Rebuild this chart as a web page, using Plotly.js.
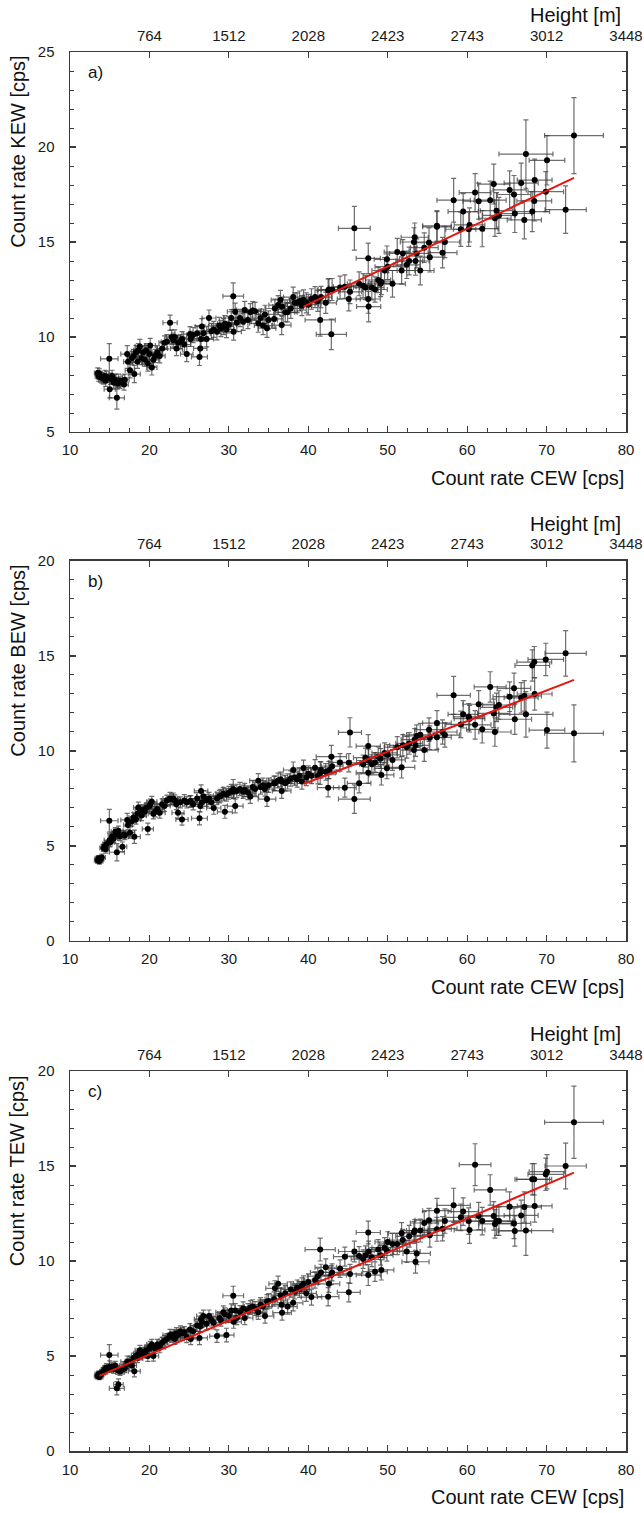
<!DOCTYPE html>
<html>
<head>
<meta charset="utf-8">
<script src="https://cdn.plot.ly/plotly-3.0.1.min.js"></script>
<style>
  html, body { margin: 0; padding: 0; background: #fff; }
  #chart { width: 644px; height: 1513px; }
</style>
</head>
<body>
<div id="chart"></div>
<script>
// Shared x values: count rate CEW [cps] and its uncertainty
const cew = [
  13.5,13.6,13.7,13.8,14.0,14.2,14.4,14.5,14.6,14.95,
  15.0,15.1,15.3,15.5,15.9,15.7,16.0,16.1,16.3,16.6,
  16.8,16.9,17.2,17.3,17.55,17.8,18.0,18.1,18.3,18.5,
  18.6,18.8,19.0,19.2,19.4,19.6,19.8,20.0,20.1,20.3,
  20.5,20.7,21.0,21.3,21.6,21.9,22.2,22.6,22.8,23.0,
  23.2,23.4,23.6,23.9,24.1,24.4,24.7,25.1,25.2,25.5,
  26.0,26.3,26.4,26.5,26.6,26.8,27.2,27.5,27.8,28.1,
  28.5,28.8,29.0,29.3,29.5,29.7,30.0,30.3,30.55,30.6,
  30.8,31.0,31.4,31.8,32.0,32.4,32.7,33.0,33.3,33.7,
  34.0,34.3,34.55,34.8,35.0,35.7,35.8,36.2,36.5,36.65,
  36.7,37.1,37.4,37.8,38.1,38.3,38.6,38.9,39.2,39.4,
  39.75,40.0,40.4,40.85,41.2,41.5,41.6,42.2,42.5,42.6,
  42.9,43.0,44.0,44.6,45.1,45.25,45.8,46.4,46.9,47.2,
  47.55,47.55,47.6,48.0,48.4,48.8,49.1,49.2,49.6,49.9,
  50.0,50.6,51.2,51.75,51.9,52.4,52.7,53.3,53.4,53.5,
  53.65,54.1,54.6,55.2,55.3,56.2,56.2,56.9,57.2,58.3,
  59.2,59.5,60.2,60.3,61.0,61.45,61.9,62.9,63.35,63.5,
  63.7,64.0,65.35,65.9,66.0,66.8,67.2,67.4,68.2,68.45,
  68.5,69.9,70.05,72.4,73.45
];
const cewErr = [
  0.43,0.44,0.44,0.44,0.45,0.45,0.46,0.46,0.47,1.1,
  0.7,0.48,0.49,0.5,0.95,0.5,0.51,0.6,0.52,0.55,
  0.54,0.54,0.8,0.55,0.6,0.57,0.58,0.75,0.59,0.6,
  0.6,0.6,0.61,0.62,0.62,0.63,0.7,0.64,0.64,0.65,
  0.66,0.66,0.67,0.68,0.69,0.7,0.71,0.9,0.73,0.74,
  0.74,0.75,0.76,0.76,0.77,0.78,0.79,0.8,0.81,0.82,
  0.83,1.0,0.84,0.85,0.85,0.86,0.87,0.88,0.89,0.9,
  0.91,0.92,0.93,0.94,0.94,0.95,0.96,0.97,1.3,0.98,
  0.99,0.99,1.0,1.02,1.02,1.04,1.05,1.06,1.07,1.08,
  1.09,1.1,1.11,1.11,1.12,1.14,1.15,1.16,1.17,1.17,
  1.17,1.19,1.2,1.21,1.22,1.23,1.24,1.24,1.25,1.26,
  1.27,1.28,1.29,1.31,1.32,1.9,1.33,1.35,1.36,1.36,
  1.9,1.38,1.41,1.43,1.44,1.45,2.0,1.48,1.5,1.51,
  1.52,1.52,1.52,1.54,1.55,1.56,1.57,1.57,1.59,1.6,
  1.6,1.62,1.64,1.66,1.66,1.68,1.69,1.71,1.71,1.71,
  1.72,1.73,1.75,1.77,1.77,1.8,1.8,1.82,1.83,2.1,
  1.89,1.9,1.93,1.93,2.0,1.97,1.98,2.01,2.03,2.03,
  2.04,2.05,2.09,2.11,2.11,2.14,2.15,3.4,2.18,2.19,
  2.19,2.24,2.24,2.6,3.7
];

// Panel a) count rate KEW [cps]
const kew = [
  8.1,7.95,8.05,7.9,7.85,7.8,7.95,7.7,7.9,8.85,
  7.25,7.8,7.95,7.6,6.8,7.75,7.55,7.7,7.6,7.7,
  7.5,7.75,9.1,8.7,8.25,8.9,9.0,8.05,9.2,8.7,
  9.3,9.5,8.9,9.2,8.8,9.3,8.6,9.1,9.55,8.4,
  8.8,9.0,9.2,9.0,9.4,9.7,9.75,10.75,10.0,9.84,
  10.0,9.4,9.7,9.75,9.9,9.6,9.1,10.15,9.9,10.1,
  10.2,8.95,9.4,9.9,10.55,10.2,9.9,11.0,10.3,10.4,
  10.28,10.6,10.45,10.55,10.7,10.4,10.65,11.0,12.15,10.28,
  11.33,10.75,11.0,10.8,11.42,10.9,11.3,11.4,11.35,10.72,
  11.0,10.6,11.19,10.46,10.9,10.95,11.5,11.68,11.95,10.63,
  11.6,11.3,11.3,11.5,12.1,11.8,11.8,11.9,11.65,11.95,
  11.8,11.7,12.0,12.1,11.9,10.9,12.1,11.8,12.45,12.5,
  10.14,12.5,12.6,12.65,12.0,12.38,15.72,12.8,12.7,12.6,
  14.14,12.0,11.6,12.6,12.5,13.0,12.8,12.9,13.5,14.09,
  13.7,12.8,14.47,13.5,14.4,13.8,14.0,15.0,15.25,14.0,
  14.4,13.5,14.7,14.96,14.2,15.8,15.85,14.44,15.0,17.2,
  15.67,16.6,15.67,15.9,17.6,17.15,15.7,17.2,18.05,16.25,
  16.65,16.4,17.74,17.5,16.5,18.1,16.16,19.63,16.6,17.16,
  18.26,17.65,19.3,16.7,20.6
];
const kewErr = [
  0.28,0.28,0.28,0.28,0.28,0.28,0.3,0.3,0.3,0.8,
  0.45,0.3,0.3,0.3,0.6,0.3,0.3,0.35,0.3,0.3,
  0.3,0.3,0.45,0.35,0.4,0.35,0.35,0.45,0.35,0.35,
  0.35,0.38,0.35,0.35,0.35,0.35,0.4,0.35,0.38,0.4,
  0.35,0.35,0.35,0.36,0.36,0.36,0.37,0.4,0.37,0.37,
  0.38,0.38,0.38,0.38,0.38,0.38,0.4,0.4,0.4,0.4,
  0.4,0.45,0.42,0.42,0.42,0.42,0.42,0.42,0.42,0.42,
  0.43,0.43,0.43,0.43,0.43,0.43,0.44,0.44,0.7,0.44,
  0.45,0.45,0.45,0.45,0.45,0.46,0.46,0.46,0.47,0.47,
  0.47,0.47,0.48,0.48,0.48,0.49,0.5,0.5,0.5,0.5,
  0.5,0.5,0.5,0.52,0.52,0.52,0.52,0.52,0.53,0.53,
  0.53,0.54,0.54,0.55,0.55,0.85,0.56,0.56,0.6,0.58,
  0.8,0.58,0.6,0.62,0.62,0.62,1.15,0.63,0.64,0.64,
  0.8,0.75,0.8,0.65,0.66,0.66,0.67,0.67,0.68,0.7,
  0.68,0.7,0.72,0.72,0.72,0.72,0.73,0.75,0.75,0.75,
  0.76,0.76,0.78,0.78,0.78,0.8,0.8,0.8,0.82,1.15,
  0.9,0.95,0.9,0.9,1.0,0.95,0.95,1.0,1.05,0.95,
  0.95,0.95,1.0,1.0,1.0,1.05,1.0,1.8,1.05,1.05,
  1.1,1.05,1.3,1.25,2.0
];

// Panel b) count rate BEW [cps]
const bew = [
  4.25,4.35,4.2,4.3,4.4,4.9,5.0,4.83,5.1,6.33,
  5.3,5.2,5.5,5.4,4.67,5.75,5.6,5.8,5.5,4.96,
  5.6,5.55,6.37,6.1,5.7,6.3,6.5,5.49,6.4,6.7,
  7.03,6.9,6.6,6.9,6.8,7.0,5.9,7.1,7.2,7.33,
  6.7,6.8,6.95,6.75,7.2,7.1,7.4,7.5,7.46,7.5,
  7.4,7.2,6.75,7.3,6.4,7.4,7.3,7.35,7.35,7.2,
  7.5,6.46,7.1,7.9,7.3,7.6,7.4,7.5,7.3,7.0,
  7.5,7.6,7.65,7.75,6.8,7.7,7.8,7.9,8.0,7.85,
  7.1,7.9,8.0,7.85,7.95,7.8,7.6,8.1,8.0,8.44,
  8.1,8.2,8.0,7.47,8.2,8.3,8.3,8.45,8.5,7.9,
  8.4,8.3,8.4,8.55,9.0,8.6,8.5,8.7,8.4,9.1,
  8.6,8.8,8.7,9.12,8.7,8.84,9.0,8.9,8.07,9.0,
  9.7,9.2,9.4,8.07,9.38,10.98,7.47,8.3,9.3,9.65,
  10.26,8.86,9.5,9.3,9.4,9.7,9.6,8.74,9.9,9.09,
  9.8,9.53,10.2,9.14,10.3,10.2,10.4,10.05,10.6,10.3,
  10.79,10.85,10.05,11.12,10.7,11.47,10.72,11.0,10.84,12.93,
  11.4,11.93,11.8,11.7,11.38,12.46,11.14,13.37,11.98,11.0,
  12.3,12.42,12.86,13.3,11.67,12.8,12.9,11.93,14.5,14.68,
  13.0,14.82,11.1,15.14,10.93
];
const bewErr = [
  0.15,0.15,0.15,0.15,0.17,0.18,0.18,0.2,0.2,0.6,
  0.35,0.2,0.22,0.22,0.45,0.22,0.22,0.25,0.22,0.25,
  0.22,0.22,0.35,0.25,0.3,0.25,0.25,0.35,0.25,0.25,
  0.28,0.26,0.26,0.26,0.26,0.26,0.3,0.27,0.27,0.28,
  0.27,0.27,0.27,0.28,0.28,0.28,0.28,0.32,0.28,0.29,
  0.29,0.29,0.3,0.29,0.3,0.3,0.3,0.3,0.3,0.3,
  0.31,0.35,0.31,0.32,0.31,0.31,0.32,0.32,0.32,0.33,
  0.33,0.33,0.33,0.34,0.34,0.34,0.34,0.34,0.5,0.34,
  0.36,0.35,0.35,0.35,0.35,0.36,0.36,0.36,0.36,0.37,
  0.37,0.37,0.37,0.38,0.38,0.38,0.38,0.39,0.39,0.39,
  0.39,0.4,0.4,0.4,0.42,0.4,0.4,0.41,0.41,0.42,
  0.42,0.42,0.42,0.43,0.43,0.6,0.43,0.44,0.48,0.45,
  0.6,0.45,0.46,0.5,0.48,0.77,0.75,0.5,0.49,0.5,
  0.6,0.55,0.6,0.5,0.51,0.52,0.52,0.53,0.53,0.55,
  0.54,0.55,0.56,0.56,0.56,0.57,0.57,0.58,0.58,0.58,
  0.59,0.6,0.6,0.62,0.62,0.65,0.63,0.64,0.64,1.0,
  0.7,0.72,0.7,0.7,0.75,0.72,0.72,0.8,0.75,0.75,
  0.75,0.75,0.78,0.8,0.8,0.8,0.8,1.2,0.82,0.82,
  0.85,0.85,0.95,1.2,1.5
];

// Panel c) count rate TEW [cps]
const tew = [
  3.95,4.05,3.9,4.0,4.1,4.2,4.3,4.25,4.4,5.05,
  4.44,4.35,4.45,4.3,3.3,4.5,4.25,3.5,4.2,4.3,
  4.4,4.35,4.7,4.6,4.7,4.5,4.9,4.2,5.0,4.9,
  5.1,5.3,5.05,5.2,5.15,5.3,5.0,5.4,5.5,5.6,
  5.0,5.4,5.6,5.45,5.7,5.8,5.9,6.1,6.0,6.1,
  5.9,6.2,6.1,6.3,6.2,6.25,6.0,6.4,5.9,6.3,
  6.6,5.95,6.55,6.95,6.8,7.1,6.7,7.1,6.9,6.75,
  6.05,7.0,6.9,7.3,7.2,6.1,7.1,7.4,8.17,6.8,
  7.4,7.0,7.3,7.5,7.0,7.4,7.55,7.6,7.5,7.3,
  7.7,7.6,7.1,7.85,7.9,8.0,8.56,8.8,8.2,7.7,
  7.28,8.3,7.6,8.5,7.8,8.4,8.6,8.5,8.7,8.8,
  8.3,8.9,8.1,9.0,9.2,10.6,9.4,9.67,8.12,8.8,
  9.26,9.4,9.6,10.23,8.35,9.32,10.5,10.26,10.1,10.3,
  11.5,9.26,10.5,10.2,9.44,10.6,10.3,9.53,10.7,10.54,
  11.0,10.9,10.9,11.46,11.1,10.5,11.3,11.5,11.6,9.96,
  10.4,11.6,12.0,12.15,11.35,12.65,11.67,11.7,12.1,12.93,
  12.3,12.6,12.1,11.63,15.07,12.37,12.1,13.74,12.37,11.95,
  12.1,12.1,12.86,11.98,11.58,12.4,12.84,11.6,14.3,14.3,
  12.9,14.56,14.7,15.0,17.3
];
const tewErr = [
  0.15,0.15,0.15,0.15,0.17,0.18,0.18,0.2,0.2,0.55,
  0.3,0.2,0.22,0.22,0.35,0.22,0.22,0.3,0.22,0.25,
  0.22,0.22,0.3,0.25,0.28,0.25,0.25,0.3,0.25,0.25,
  0.27,0.26,0.26,0.26,0.26,0.26,0.28,0.27,0.27,0.28,
  0.27,0.27,0.27,0.28,0.28,0.28,0.28,0.3,0.28,0.29,
  0.29,0.29,0.3,0.29,0.3,0.3,0.3,0.3,0.3,0.3,
  0.31,0.35,0.31,0.32,0.31,0.31,0.32,0.32,0.32,0.33,
  0.33,0.33,0.33,0.34,0.34,0.36,0.34,0.34,0.5,0.34,
  0.36,0.35,0.35,0.35,0.35,0.36,0.36,0.36,0.36,0.37,
  0.37,0.37,0.37,0.38,0.38,0.38,0.4,0.4,0.39,0.39,
  0.39,0.4,0.4,0.4,0.42,0.4,0.4,0.41,0.41,0.42,
  0.42,0.42,0.42,0.43,0.43,0.6,0.43,0.44,0.48,0.45,
  0.5,0.45,0.46,0.5,0.5,0.5,0.55,0.5,0.49,0.5,
  0.6,0.55,0.55,0.5,0.51,0.52,0.52,0.53,0.53,0.55,
  0.54,0.55,0.56,0.56,0.56,0.57,0.57,0.58,0.58,0.6,
  0.59,0.6,0.6,0.62,0.62,0.65,0.63,0.64,0.64,0.9,
  0.7,0.72,0.7,0.7,1.1,0.72,0.72,0.8,0.75,0.75,
  0.75,0.75,0.78,0.8,0.8,0.8,0.8,1.3,0.82,0.82,
  0.85,0.85,0.9,1.2,1.9
];

// Linear fits (end points)
const fitKEW_x = [39.4, 73.45];
const fitKEW_y = [11.6, 18.38];
const fitBEW_x = [39.4, 73.45];
const fitBEW_y = [8.26, 13.74];
const fitTEW_x = [13.7, 73.45];
const fitTEW_y = [3.95, 14.65];

// Axis ticks
const cewRange = [10, 80];
const heightTickVals = [20, 30, 40, 50, 60, 70, 80];
const heightTickText = ['764', '1512', '2028', '2423', '2743', '3012', '3448'];
const panelLabels = ['a)', 'b)', 'c)'];
const yTitles = ['Count rate KEW [cps]', 'Count rate BEW [cps]', 'Count rate TEW [cps]'];
const yRanges = [[5, 25], [0, 20], [0, 20]];

const panels = [
  { y: kew, err: kewErr, fx: fitKEW_x, fy: fitKEW_y, dom: [0.72838, 1] },
  { y: bew, err: bewErr, fx: fitBEW_x, fy: fitBEW_y, dom: [0.36455, 0.63617] },
  { y: tew, err: tewErr, fx: fitTEW_x, fy: fitTEW_y, dom: [0, 0.27162] }
];

const FONT = 'Liberation Sans, Arial, Helvetica, sans-serif';
const AX = '#3a3a3a';
const ERRC = 'rgba(60,60,60,0.75)';
const traces = [];
const layout = {
  width: 644, height: 1513,
  margin: { l: 70, r: 18, t: 52, b: 62, pad: 0 },
  paper_bgcolor: '#fff', plot_bgcolor: '#fff',
  showlegend: false,
  font: { family: FONT, color: '#1a1a1a', size: 15 },
  annotations: []
};

panels.forEach((p, i) => {
  const xb = 'x' + (i === 0 ? '' : (2 * i + 1));
  const xt = 'x' + (2 * i + 2);
  const yy = 'y' + (i === 0 ? '' : (i + 1));
  const xbKey = 'xaxis' + (i === 0 ? '' : (2 * i + 1));
  const xtKey = 'xaxis' + (2 * i + 2);
  const yKey = 'yaxis' + (i === 0 ? '' : (i + 1));

  traces.push({
    type: 'scatter', mode: 'markers', x: cew, y: p.y,
    xaxis: xb, yaxis: yy, hoverinfo: 'skip',
    marker: { color: '#000', size: 6, line: { width: 0 } },
    error_x: { type: 'data', array: cewErr, color: ERRC, thickness: 1.2, width: 2.5 },
    error_y: { type: 'data', array: p.err, color: ERRC, thickness: 1.2, width: 2.5 }
  });
  traces.push({
    type: 'scatter', mode: 'lines', x: p.fx, y: p.fy,
    xaxis: xb, yaxis: yy, hoverinfo: 'skip',
    line: { color: '#e8140f', width: 2 }
  });
  traces.push({ type: 'scatter', mode: 'markers', x: [], y: [], xaxis: xt, yaxis: yy, hoverinfo: 'skip' });

  layout[xbKey] = {
    domain: [0, 1], anchor: yy, range: cewRange, tick0: 10, dtick: 10,
    ticks: 'inside', ticklen: 6, tickwidth: 1.2, tickcolor: AX,
    showline: true, linecolor: AX, linewidth: 1.5, mirror: false,
    showgrid: false, zeroline: false, fixedrange: true,
    tickfont: { family: FONT, size: 15, color: '#1a1a1a' }, ticklabelstandoff: 4,
    minor: { tick0: 10, dtick: 2.5, ticks: 'inside', ticklen: 4, tickwidth: 1, tickcolor: AX, showgrid: false }
  };
  layout[xtKey] = {
    overlaying: xb, side: 'top', anchor: yy, range: cewRange,
    tickmode: 'array', tickvals: heightTickVals, ticktext: heightTickText,
    ticks: 'inside', ticklen: 6, tickwidth: 1.2, tickcolor: AX,
    showline: true, linecolor: AX, linewidth: 1.5,
    showgrid: false, zeroline: false, fixedrange: true,
    tickfont: { family: FONT, size: 15, color: '#1a1a1a' }, ticklabelstandoff: 4
  };
  layout[yKey] = {
    domain: p.dom, anchor: xb, range: yRanges[i], tick0: 0, dtick: 5,
    ticks: 'inside', ticklen: 6, tickwidth: 1.2, tickcolor: AX,
    showline: true, linecolor: AX, linewidth: 1.5, mirror: 'ticks',
    showgrid: false, zeroline: false, fixedrange: true,
    tickfont: { family: FONT, size: 15, color: '#1a1a1a' }, ticklabelstandoff: 11,
    minor: { tick0: 0, dtick: 1, ticks: 'inside', ticklen: 4, tickwidth: 1, tickcolor: AX, showgrid: false }
  };

  const xd = xb + ' domain', yd = yy + ' domain';
  layout.annotations.push(
    { xref: xd, yref: yd, x: 0.028, y: 0.945, xanchor: 'left', yanchor: 'middle',
      text: panelLabels[i], showarrow: false, font: { family: FONT, size: 17, color: '#111' } },
    { xref: xd, yref: yd, x: -0.094, y: 0.995, xanchor: 'center', yanchor: 'top', textangle: -90,
      text: yTitles[i], showarrow: false, font: { family: FONT, size: 20, color: '#111' } },
    { xref: xd, yref: yd, x: 1.0, y: -0.121, xanchor: 'right', yanchor: 'middle',
      text: 'Count rate CEW [cps]', showarrow: false, font: { family: FONT, size: 20, color: '#111' } },
    { xref: xd, yref: yd, x: 0.994, y: 1.097, xanchor: 'right', yanchor: 'middle',
      text: 'Height [m]', showarrow: false, font: { family: FONT, size: 20, color: '#111' } }
  );
});

Plotly.newPlot('chart', traces, layout, { staticPlot: true, displayModeBar: false });
</script>
</body>
</html>
